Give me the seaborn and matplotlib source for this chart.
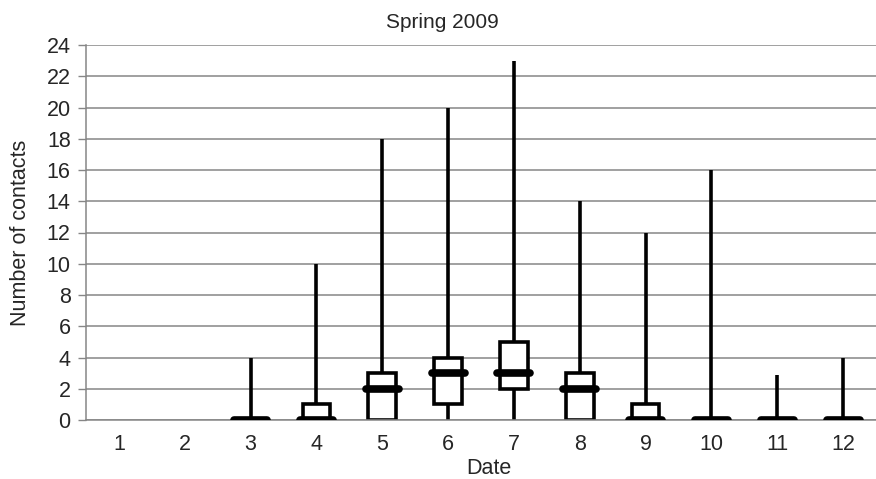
import numpy as np
import pandas as pd
import matplotlib
matplotlib.use('Agg')
import matplotlib.pyplot as plt
import seaborn as sns

# Daily contact summary (min / lower quartile / median / upper quartile / max)
dates = ['1', '2', '3', '4', '5', '6', '7', '8', '9', '10', '11', '12']
low = [None, None, 0, 0, 0, 0, 0, 0, 0, 0, 0, 0]
q1 = [None, None, 0, 0, 0, 1, 2, 0, 0, 0, 0, 0]
median = [None, None, 0, 0, 2, 3, 3, 2, 0, 0, 0, 0]
q3 = [None, None, 0, 1, 3, 4, 5, 3, 1, 0, 0, 0]
high = [None, None, 4, 10, 18, 20, 23, 14, 12, 16, 2.9, 4]

# five values per day -> seaborn quartiles land exactly on q1 / median / q3
rows = []
for d, a, b, c, e, f in zip(dates, low, q1, median, q3, high):
    if a is None:
        continue
    for v in (a, b, c, e, f):
        rows.append({'Date': d, 'Contacts': v})
df = pd.DataFrame(rows)

sns.set_style('white')
plt.rcParams['font.family'] = ['Liberation Sans', 'DejaVu Sans']

fig = plt.figure(figsize=(8.76, 4.79), dpi=100)
ax = fig.add_axes([86 / 876, 59 / 479, 790 / 876, 375 / 479])

grey = '#868686'
ax.set_axisbelow(True)
ax.yaxis.grid(True, color=grey, linewidth=1.1)

# whiskers run from min to max (percentile whiskers, no fliers)
sns.boxplot(data=df, x='Date', y='Contacts', order=dates, whis=(0, 100),
            width=0.42, color='white', linecolor='black', linewidth=2.6,
            showcaps=False, showfliers=False, ax=ax)

# thick median bars, wider than the boxes
pos = [i for i, m in enumerate(median) if m is not None]
meds = [m for m in median if m is not None]
for p, m in zip(pos, meds):
    ax.plot([p - 0.25, p + 0.25], [m, m], color='black', linewidth=5.5,
            solid_capstyle='round', zorder=5)

ax.set_xlim(-0.5, 11.35)
ax.set_ylim(0, 24)
ax.set_yticks(np.arange(0, 25, 2))
ax.set_xticks(np.arange(-0.5, 12, 1), minor=True)
ax.tick_params(axis='x', which='major', length=0, pad=10, labelsize=15.5)
ax.tick_params(axis='x', which='minor', length=5, width=1, color=grey)
ax.tick_params(axis='y', length=6, width=1, color=grey, pad=5, labelsize=15.5,
               left=True)

for s in ['top', 'right']:
    ax.spines[s].set_visible(False)
for s in ['left', 'bottom']:
    ax.spines[s].set_color(grey)
    ax.spines[s].set_linewidth(1.1)

ax.set_xlabel('Date', fontsize=15.5)
ax.xaxis.set_label_coords((489 - 86) / 790, -0.101)
ax.set_ylabel('Number of contacts', fontsize=15.5)
ax.yaxis.set_label_coords(-0.07, 0.5)

fig.text(442 / 876, 1 - 22 / 479, 'Spring 2009', ha='center', va='center',
         fontsize=15)

fig.savefig('out.png', dpi=100)
